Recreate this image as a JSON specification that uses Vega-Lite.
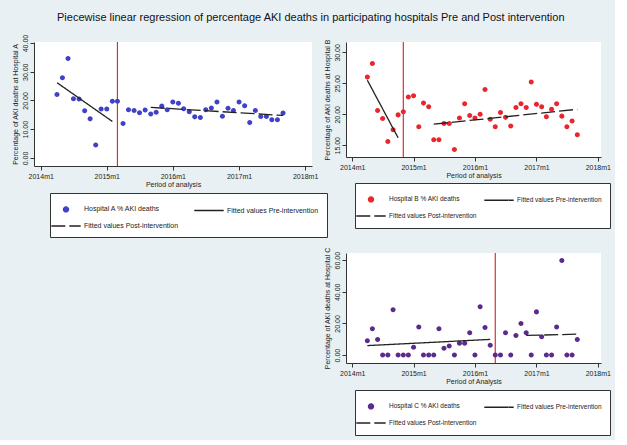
{
  "$schema": "https://vega.github.io/schema/vega-lite/v6.json",
  "background": "#e9f0f4",
  "padding": {"left": 10, "top": 12, "right": 4, "bottom": 4},
  "title": {"text": "Piecewise linear regression of percentage AKI deaths in participating hospitals Pre and Post intervention", "fontSize": 11, "fontWeight": "normal", "color": "#111", "anchor": "middle", "offset": 11},
  "datasets": {
    "pts": [
      {"hospital":"A","month":"2014-04-01","pct":22.1},{"hospital":"A","month":"2014-05-01","pct":27.9},{"hospital":"A","month":"2014-06-01","pct":34.6},{"hospital":"A","month":"2014-07-01","pct":20.6},{"hospital":"A","month":"2014-08-01","pct":20.5},{"hospital":"A","month":"2014-09-01","pct":16.4},{"hospital":"A","month":"2014-10-01","pct":13.6},{"hospital":"A","month":"2014-11-01","pct":4.5},{"hospital":"A","month":"2014-12-01","pct":17.0},
      {"hospital":"A","month":"2015-01-01","pct":17.0},{"hospital":"A","month":"2015-02-01","pct":19.7},{"hospital":"A","month":"2015-03-01","pct":19.7},{"hospital":"A","month":"2015-04-01","pct":12.0},{"hospital":"A","month":"2015-05-01","pct":16.8},{"hospital":"A","month":"2015-06-01","pct":16.5},{"hospital":"A","month":"2015-07-01","pct":15.7},{"hospital":"A","month":"2015-08-01","pct":16.7},{"hospital":"A","month":"2015-09-01","pct":15.3},{"hospital":"A","month":"2015-10-01","pct":15.9},{"hospital":"A","month":"2015-11-01","pct":18.1},{"hospital":"A","month":"2015-12-01","pct":16.8},
      {"hospital":"A","month":"2016-01-01","pct":19.5},{"hospital":"A","month":"2016-02-01","pct":19.0},{"hospital":"A","month":"2016-03-01","pct":17.1},{"hospital":"A","month":"2016-04-01","pct":16.1},{"hospital":"A","month":"2016-05-01","pct":14.3},{"hospital":"A","month":"2016-06-01","pct":14.1},{"hospital":"A","month":"2016-07-01","pct":16.8},{"hospital":"A","month":"2016-08-01","pct":17.4},{"hospital":"A","month":"2016-09-01","pct":19.5},{"hospital":"A","month":"2016-10-01","pct":14.5},{"hospital":"A","month":"2016-11-01","pct":17.3},{"hospital":"A","month":"2016-12-01","pct":16.5},
      {"hospital":"A","month":"2017-01-01","pct":19.5},{"hospital":"A","month":"2017-02-01","pct":18.2},{"hospital":"A","month":"2017-03-01","pct":12.3},{"hospital":"A","month":"2017-04-01","pct":16.5},{"hospital":"A","month":"2017-05-01","pct":14.4},{"hospital":"A","month":"2017-06-01","pct":14.4},{"hospital":"A","month":"2017-07-01","pct":13.3},{"hospital":"A","month":"2017-08-01","pct":13.3},{"hospital":"A","month":"2017-09-01","pct":15.6},
      {"hospital":"B","month":"2014-04-01","pct":26.0},{"hospital":"B","month":"2014-05-01","pct":28.2},{"hospital":"B","month":"2014-06-01","pct":20.6},{"hospital":"B","month":"2014-07-01","pct":19.3},{"hospital":"B","month":"2014-08-01","pct":15.6},{"hospital":"B","month":"2014-09-01","pct":17.5},{"hospital":"B","month":"2014-10-01","pct":19.9},{"hospital":"B","month":"2014-11-01","pct":20.4},{"hospital":"B","month":"2014-12-01","pct":22.8},
      {"hospital":"B","month":"2015-01-01","pct":23.0},{"hospital":"B","month":"2015-02-01","pct":18.0},{"hospital":"B","month":"2015-03-01","pct":21.8},{"hospital":"B","month":"2015-04-01","pct":21.2},{"hospital":"B","month":"2015-05-01","pct":15.9},{"hospital":"B","month":"2015-06-01","pct":15.9},{"hospital":"B","month":"2015-07-01","pct":18.5},{"hospital":"B","month":"2015-08-01","pct":18.5},{"hospital":"B","month":"2015-09-01","pct":14.3},{"hospital":"B","month":"2015-10-01","pct":19.4},{"hospital":"B","month":"2015-11-01","pct":21.7},{"hospital":"B","month":"2015-12-01","pct":19.8},
      {"hospital":"B","month":"2016-01-01","pct":19.4},{"hospital":"B","month":"2016-02-01","pct":20.0},{"hospital":"B","month":"2016-03-01","pct":24.0},{"hospital":"B","month":"2016-04-01","pct":19.2},{"hospital":"B","month":"2016-05-01","pct":18.0},{"hospital":"B","month":"2016-06-01","pct":20.3},{"hospital":"B","month":"2016-07-01","pct":19.5},{"hospital":"B","month":"2016-08-01","pct":18.1},{"hospital":"B","month":"2016-09-01","pct":21.1},{"hospital":"B","month":"2016-10-01","pct":21.7},{"hospital":"B","month":"2016-11-01","pct":21.1},{"hospital":"B","month":"2016-12-01","pct":25.2},
      {"hospital":"B","month":"2017-01-01","pct":21.6},{"hospital":"B","month":"2017-02-01","pct":21.2},{"hospital":"B","month":"2017-03-01","pct":19.6},{"hospital":"B","month":"2017-04-01","pct":20.8},{"hospital":"B","month":"2017-05-01","pct":21.7},{"hospital":"B","month":"2017-06-01","pct":19.7},{"hospital":"B","month":"2017-07-01","pct":18.0},{"hospital":"B","month":"2017-08-01","pct":18.9},{"hospital":"B","month":"2017-09-01","pct":16.7},
      {"hospital":"C","month":"2014-04-01","pct":9.1},{"hospital":"C","month":"2014-05-01","pct":16.6},{"hospital":"C","month":"2014-06-01","pct":9.9},{"hospital":"C","month":"2014-07-01","pct":0},{"hospital":"C","month":"2014-08-01","pct":0},{"hospital":"C","month":"2014-09-01","pct":28.6},{"hospital":"C","month":"2014-10-01","pct":0},{"hospital":"C","month":"2014-11-01","pct":0},{"hospital":"C","month":"2014-12-01","pct":0},
      {"hospital":"C","month":"2015-01-01","pct":5.0},{"hospital":"C","month":"2015-02-01","pct":17.8},{"hospital":"C","month":"2015-03-01","pct":0},{"hospital":"C","month":"2015-04-01","pct":0},{"hospital":"C","month":"2015-05-01","pct":0},{"hospital":"C","month":"2015-06-01","pct":16.6},{"hospital":"C","month":"2015-07-01","pct":4.3},{"hospital":"C","month":"2015-08-01","pct":5.8},{"hospital":"C","month":"2015-09-01","pct":0},{"hospital":"C","month":"2015-10-01","pct":7.5},{"hospital":"C","month":"2015-11-01","pct":7.5},{"hospital":"C","month":"2015-12-01","pct":14.1},
      {"hospital":"C","month":"2016-01-01","pct":0},{"hospital":"C","month":"2016-02-01","pct":30.6},{"hospital":"C","month":"2016-03-01","pct":17.4},{"hospital":"C","month":"2016-04-01","pct":6.2},{"hospital":"C","month":"2016-05-01","pct":0},{"hospital":"C","month":"2016-06-01","pct":0},{"hospital":"C","month":"2016-07-01","pct":14.1},{"hospital":"C","month":"2016-08-01","pct":0},{"hospital":"C","month":"2016-09-01","pct":12.4},{"hospital":"C","month":"2016-10-01","pct":19.9},{"hospital":"C","month":"2016-11-01","pct":14.1},{"hospital":"C","month":"2016-12-01","pct":0},
      {"hospital":"C","month":"2017-01-01","pct":27.3},{"hospital":"C","month":"2017-02-01","pct":11.6},{"hospital":"C","month":"2017-03-01","pct":0},{"hospital":"C","month":"2017-04-01","pct":0},{"hospital":"C","month":"2017-05-01","pct":17.8},{"hospital":"C","month":"2017-06-01","pct":59.8},{"hospital":"C","month":"2017-07-01","pct":0},{"hospital":"C","month":"2017-08-01","pct":0},{"hospital":"C","month":"2017-09-01","pct":9.9}
    ],
    "fit": [
      {"hospital":"A","series":"Fitted values Pre-intervention","month":"2014-04-01","pct":26.2},
      {"hospital":"A","series":"Fitted values Pre-intervention","month":"2015-02-01","pct":12.7},
      {"hospital":"A","series":"Fitted values Post-intervention","month":"2015-09-01","pct":17.6},
      {"hospital":"A","series":"Fitted values Post-intervention","month":"2017-09-01","pct":14.8},
      {"hospital":"B","series":"Fitted values Pre-intervention","month":"2014-04-01","pct":25.5},
      {"hospital":"B","series":"Fitted values Pre-intervention","month":"2014-10-01","pct":16.2},
      {"hospital":"B","series":"Fitted values Post-intervention","month":"2015-05-01","pct":18.4},
      {"hospital":"B","series":"Fitted values Post-intervention","month":"2017-09-01","pct":20.8},
      {"hospital":"C","series":"Fitted values Pre-intervention","month":"2014-04-01","pct":6.0},
      {"hospital":"C","series":"Fitted values Pre-intervention","month":"2016-04-01","pct":9.9},
      {"hospital":"C","series":"Fitted values Post-intervention","month":"2016-11-01","pct":12.4},
      {"hospital":"C","series":"Fitted values Post-intervention","month":"2017-09-01","pct":13.2}
    ],
    "intervention": [
      {"hospital":"A","month":"2015-03-01"},
      {"hospital":"B","month":"2014-11-01"},
      {"hospital":"C","month":"2016-05-01"}
    ]
  },
  "bounds": "flush",
  "spacing": 34,
  "hconcat": [
    {
      "width": 278, "height": 124,
      "layer": [
        {"data":{"name":"intervention"},"transform":[{"filter":"datum.hospital === 'A'"}],
         "mark":{"type":"rule","color":"#d8322c","strokeWidth":1.2},
         "encoding":{"x":{"field":"month","type":"temporal"}}},
        {"data":{"name":"pts"},"transform":[{"filter":"datum.hospital === 'A'"}],
         "mark":{"type":"point","filled":true,"size":196,"opacity":1},
         "encoding":{
           "x":{"field":"month","type":"temporal","title":"Period of analysis",
                "scale":{"type":"utc","domain":[{"year":2013,"month":11,"date":25,"utc":true},{"year":2018,"month":2,"date":8,"utc":true}]},
                "axis":{"values":[{"year":2014,"month":1,"date":1,"utc":true},{"year":2015,"month":1,"date":1,"utc":true},{"year":2016,"month":1,"date":1,"utc":true},{"year":2017,"month":1,"date":1,"utc":true},{"year":2018,"month":1,"date":1,"utc":true}],
                        "tickCount":10,
                        "labelExpr":"utcFormat(datum.value, '%Y') + 'm1'"}},
           "y":{"field":"pct","type":"quantitative","title":"Percentage of AKI deaths at Hospital A",
                "scale":{"domain":[-2.8,40.35],"nice":false,"zero":false},
                "axis":{"values":[0,10,20,30,40],"tickCount":10,"format":".2f","labelOverlap":false,"labelAngle":270,"labelAlign":"center","labelBaseline":"bottom"}},
           "color":{"datum":"Hospital A % AKI deaths","type":"nominal",
                    "scale":{"domain":["Hospital A % AKI deaths","Fitted values Pre-intervention","Fitted values Post-intervention"],"range":["#4040c8","#222222","#222222"]},
                    "legend":{"title":null,"legendX":16,"legendY":151,"columnPadding":12}},
           "shape":{"datum":"Hospital A % AKI deaths","type":"nominal",
                    "scale":{"domain":["Hospital A % AKI deaths","Fitted values Pre-intervention","Fitted values Post-intervention"],"range":["M-0.36,0A0.36,0.36 0 1,0 0.36,0A0.36,0.36 0 1,0 -0.36,0Z","M-2.1,0H2.1","M-2.1,0H2.1"]},
                    "legend":{"title":null,"legendX":16,"legendY":151,"columnPadding":12}}
         }},
        {"data":{"name":"fit"},"transform":[{"filter":"datum.hospital === 'A'"}],
         "mark":{"type":"line","strokeWidth":1.3},
         "encoding":{
           "x":{"field":"month","type":"temporal"},
           "y":{"field":"pct","type":"quantitative"},
           "color":{"field":"series","type":"nominal"},
           "strokeDash":{"field":"series","type":"nominal",
                    "scale":{"domain":["Hospital A % AKI deaths","Fitted values Pre-intervention","Fitted values Post-intervention"],"range":[[1,0],[1,0],[14,4]]},
                    "legend":{"title":null,"legendX":16,"legendY":151,"columnPadding":12}}
         }}
      ]
    },
    {
      "bounds": "flush",
      "spacing": 96,
      "vconcat": [
        {
          "width": 255, "height": 115,
          "layer": [
            {"data":{"name":"intervention"},"transform":[{"filter":"datum.hospital === 'B'"}],
             "mark":{"type":"rule","color":"#d8322c","strokeWidth":1.2},
             "encoding":{"x":{"field":"month","type":"temporal"}}},
            {"data":{"name":"pts"},"transform":[{"filter":"datum.hospital === 'B'"}],
             "mark":{"type":"point","filled":true,"size":196,"opacity":1},
             "encoding":{
               "x":{"field":"month","type":"temporal","title":"Period of analysis",
                    "scale":{"type":"utc","domain":[{"year":2013,"month":11,"date":25,"utc":true},{"year":2018,"month":1,"date":20,"utc":true}]},
                    "axis":{"values":[{"year":2014,"month":1,"date":1,"utc":true},{"year":2015,"month":1,"date":1,"utc":true},{"year":2016,"month":1,"date":1,"utc":true},{"year":2017,"month":1,"date":1,"utc":true},{"year":2018,"month":1,"date":1,"utc":true}],
                            "tickCount":10,
                            "labelExpr":"utcFormat(datum.value, '%Y') + 'm1'"}},
               "y":{"field":"pct","type":"quantitative","title":"Percentage of AKI deaths at Hospital B",
                    "scale":{"domain":[13.1,31.67],"nice":false,"zero":false},
                    "axis":{"values":[15,20,25,30],"tickCount":10,"format":".2f","labelOverlap":false,"labelAngle":270,"labelAlign":"center","labelBaseline":"bottom"}},
               "color":{"datum":"Hospital B % AKI deaths","type":"nominal",
                        "scale":{"domain":["Hospital B % AKI deaths","Fitted values Pre-intervention","Fitted values Post-intervention"],"range":["#e8262c","#222222","#222222"]},
                        "legend":{"title":null,"legendX":9,"legendY":141,"columnPadding":4,"labelFontSize":6.5}},
               "shape":{"datum":"Hospital B % AKI deaths","type":"nominal",
                        "scale":{"domain":["Hospital B % AKI deaths","Fitted values Pre-intervention","Fitted values Post-intervention"],"range":["M-0.36,0A0.36,0.36 0 1,0 0.36,0A0.36,0.36 0 1,0 -0.36,0Z","M-2.1,0H2.1","M-2.1,0H2.1"]},
                        "legend":{"title":null,"legendX":9,"legendY":141,"columnPadding":4,"labelFontSize":6.5}}
             }},
            {"data":{"name":"fit"},"transform":[{"filter":"datum.hospital === 'B'"}],
             "mark":{"type":"line","strokeWidth":1.3},
             "encoding":{
               "x":{"field":"month","type":"temporal"},
               "y":{"field":"pct","type":"quantitative"},
               "color":{"field":"series","type":"nominal"},
               "strokeDash":{"field":"series","type":"nominal",
                        "scale":{"domain":["Hospital B % AKI deaths","Fitted values Pre-intervention","Fitted values Post-intervention"],"range":[[1,0],[1,0],[14,4]]},
                        "legend":{"title":null,"legendX":9,"legendY":141,"columnPadding":4,"labelFontSize":6.5}}
             }}
          ]
        },
        {
          "width": 255, "height": 110,
          "layer": [
            {"data":{"name":"intervention"},"transform":[{"filter":"datum.hospital === 'C'"}],
             "mark":{"type":"rule","color":"#d8322c","strokeWidth":1.2},
             "encoding":{"x":{"field":"month","type":"temporal"}}},
            {"data":{"name":"pts"},"transform":[{"filter":"datum.hospital === 'C'"}],
             "mark":{"type":"point","filled":true,"size":196,"opacity":1},
             "encoding":{
               "x":{"field":"month","type":"temporal","title":"Period of Analysis",
                    "scale":{"type":"utc","domain":[{"year":2013,"month":11,"date":25,"utc":true},{"year":2018,"month":1,"date":20,"utc":true}]},
                    "axis":{"values":[{"year":2014,"month":1,"date":1,"utc":true},{"year":2015,"month":1,"date":1,"utc":true},{"year":2016,"month":1,"date":1,"utc":true},{"year":2017,"month":1,"date":1,"utc":true},{"year":2018,"month":1,"date":1,"utc":true}],
                            "tickCount":10,
                            "labelExpr":"utcFormat(datum.value, '%Y') + 'm1'"}},
               "y":{"field":"pct","type":"quantitative","title":"Percentage of AKI deaths at Hospital C",
                    "scale":{"domain":[-5,64.5],"nice":false,"zero":false},
                    "axis":{"values":[0,20,40,60],"tickCount":10,"format":".2f","labelOverlap":false,"labelAngle":270,"labelAlign":"center","labelBaseline":"bottom"}},
               "color":{"datum":"Hospital C % AKI deaths","type":"nominal",
                        "scale":{"domain":["Hospital C % AKI deaths","Fitted values Pre-intervention","Fitted values Post-intervention"],"range":["#5c2a8e","#222222","#222222"]},
                        "legend":{"title":null,"legendX":9,"legendY":137,"columnPadding":4,"labelFontSize":6.5}},
               "shape":{"datum":"Hospital C % AKI deaths","type":"nominal",
                        "scale":{"domain":["Hospital C % AKI deaths","Fitted values Pre-intervention","Fitted values Post-intervention"],"range":["M-0.36,0A0.36,0.36 0 1,0 0.36,0A0.36,0.36 0 1,0 -0.36,0Z","M-2.1,0H2.1","M-2.1,0H2.1"]},
                        "legend":{"title":null,"legendX":9,"legendY":137,"columnPadding":4,"labelFontSize":6.5}}
             }},
            {"data":{"name":"fit"},"transform":[{"filter":"datum.hospital === 'C'"}],
             "mark":{"type":"line","strokeWidth":1.3},
             "encoding":{
               "x":{"field":"month","type":"temporal"},
               "y":{"field":"pct","type":"quantitative"},
               "color":{"field":"series","type":"nominal"},
               "strokeDash":{"field":"series","type":"nominal",
                        "scale":{"domain":["Hospital C % AKI deaths","Fitted values Pre-intervention","Fitted values Post-intervention"],"range":[[1,0],[1,0],[14,4]]},
                        "legend":{"title":null,"legendX":9,"legendY":137,"columnPadding":4,"labelFontSize":6.5}}
             }}
          ]
        }
      ],
      "resolve": {"scale": {"x":"independent","y":"independent","color":"independent","shape":"independent","strokeDash":"independent"}}
    }
  ],
  "resolve": {"scale": {"x":"independent","y":"independent","color":"independent","shape":"independent","strokeDash":"independent"}},
  "config": {
    "font": "Liberation Sans",
    "view": {"stroke": null, "fill": "#ffffff"},
    "axis": {"grid": false, "labelFontSize": 7, "titleFontSize": 7, "titleFontWeight": "normal", "domainColor": "#333333", "tickColor": "#333333", "labelColor": "#222222", "titleColor": "#222222", "tickSize": 4, "labelPadding": 2, "titlePadding": 3},
    "axisX": {"titlePadding": 1},
    "axisY": {"labelOverlap": false},
    "legend": {"orient": "none", "direction": "horizontal", "columns": 2, "strokeColor": "#333333", "fillColor": "#ffffff", "padding": 8, "labelFontSize": 7, "labelColor": "#222222", "labelOffset": 10, "symbolSize": 196, "symbolStrokeWidth": 1.3, "rowPadding": 3}
  }
}
